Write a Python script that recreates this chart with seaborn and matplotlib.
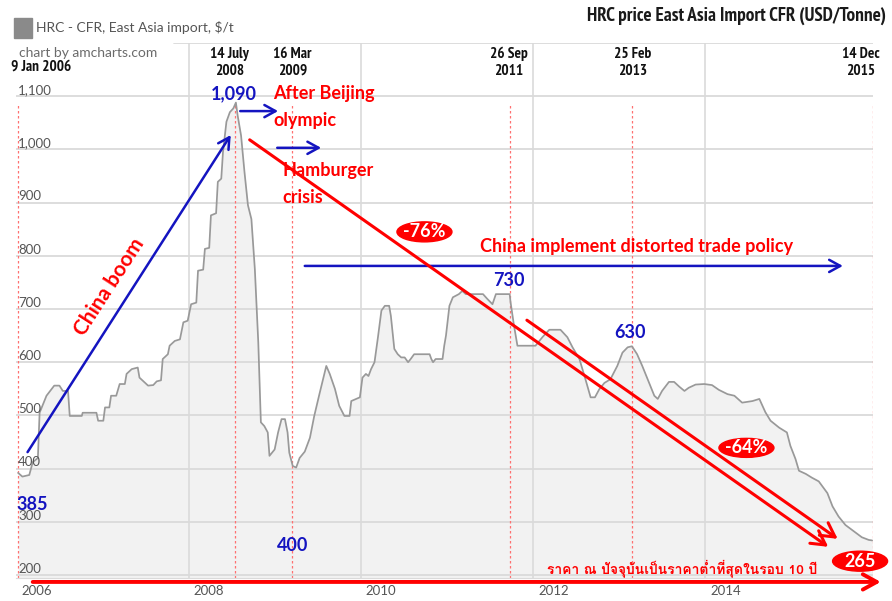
import pandas as pd
import matplotlib
matplotlib.use('Agg')
import matplotlib.pyplot as plt
import seaborn as sns
from matplotlib import font_manager, ft2font
from matplotlib.patches import Ellipse, Rectangle

# HRC price, East Asia import CFR (decimal year, USD/t)
years = [
    2006.02, 2006.07, 2006.15, 2006.19, 2006.25, 2006.27, 2006.35, 2006.44, 2006.50, 2006.54,
    2006.60, 2006.62, 2006.76, 2006.77, 2006.93, 2006.95, 2007.01, 2007.03, 2007.08, 2007.10,
    2007.16, 2007.20, 2007.26, 2007.28, 2007.34, 2007.41, 2007.43, 2007.49, 2007.53, 2007.59,
    2007.63, 2007.68, 2007.70, 2007.76, 2007.78, 2007.84, 2007.90, 2007.94, 2007.99, 2008.03,
    2008.09, 2008.11, 2008.17, 2008.19, 2008.24, 2008.26, 2008.32, 2008.34, 2008.38, 2008.40,
    2008.44, 2008.48, 2008.52, 2008.55, 2008.57, 2008.61, 2008.65, 2008.69, 2008.73, 2008.77,
    2008.81, 2008.84, 2008.88, 2008.92, 2008.94, 2009.00, 2009.04, 2009.08, 2009.12, 2009.15,
    2009.17, 2009.21, 2009.25, 2009.29, 2009.35, 2009.41, 2009.46, 2009.52, 2009.60, 2009.64,
    2009.70, 2009.75, 2009.81, 2009.87, 2009.89, 2009.99, 2010.02, 2010.06, 2010.09, 2010.12,
    2010.16, 2010.20, 2010.24, 2010.28, 2010.33, 2010.35, 2010.39, 2010.43, 2010.47, 2010.51,
    2010.55, 2010.58, 2010.62, 2010.80, 2010.82, 2010.84, 2010.87, 2010.95, 2010.97, 2010.99,
    2011.03, 2011.07, 2011.14, 2011.18, 2011.22, 2011.42, 2011.47, 2011.53, 2011.57, 2011.73,
    2011.74, 2011.78, 2011.82, 2012.03, 2012.11, 2012.19, 2012.32, 2012.40, 2012.46, 2012.54,
    2012.61, 2012.67, 2012.72, 2012.77, 2012.83, 2012.90, 2012.98, 2013.04, 2013.10, 2013.15,
    2013.21, 2013.27, 2013.35, 2013.41, 2013.45, 2013.50, 2013.58, 2013.64, 2013.70, 2013.76,
    2013.81, 2013.89, 2013.99, 2014.08, 2014.16, 2014.26, 2014.34, 2014.43, 2014.55, 2014.63,
    2014.70, 2014.76, 2014.86, 2014.95, 2014.99, 2015.05, 2015.09, 2015.17, 2015.24, 2015.32,
    2015.42, 2015.48, 2015.55, 2015.63, 2015.73, 2015.82, 2015.90, 2015.94,
]
prices = [
    392, 385, 388, 412, 420, 505, 537, 556, 556, 546,
    546, 499, 499, 505, 505, 490, 490, 515, 515, 537,
    537, 559, 559, 578, 587, 590, 571, 562, 556, 557,
    564, 566, 606, 615, 631, 640, 643, 675, 678, 709,
    712, 772, 774, 813, 815, 876, 880, 939, 945, 995,
    1052, 1070, 1077, 1088, 1064, 1026, 957, 895, 869, 775,
    637, 487, 480, 468, 424, 436, 468, 493, 493, 468,
    430, 405, 402, 420, 432, 458, 499, 540, 593, 578,
    550, 518, 499, 499, 527, 534, 571, 578, 574, 587,
    600, 647, 697, 706, 706, 687, 625, 615, 609, 609,
    600, 606, 615, 615, 606, 600, 606, 606, 631, 650,
    706, 722, 728, 734, 728, 728, 719, 709, 728, 728,
    713, 669, 631, 631, 647, 661, 661, 647, 628, 606,
    568, 534, 534, 549, 561, 568, 593, 618, 628, 630,
    615, 593, 561, 537, 531, 546, 563, 563, 554, 546,
    552, 558, 559, 557, 548, 540, 537, 524, 527, 531,
    506, 490, 477, 468, 443, 418, 396, 390, 383, 376,
    354, 329, 310, 294, 282, 271, 266, 265,
]

event_dates = ['2006-01-09', '2008-07-14', '2009-03-16', '2011-09-26', '2013-02-25', '2015-12-14']
event_labels = ['9 Jan 2006', '14 July\n2008', '16 Mar\n2009', '26 Sep\n2011', '25 Feb\n2013', '14 Dec\n2015']
year_ticks = [2006, 2008, 2010, 2012, 2014]
price_ticks = [200, 300, 400, 500, 600, 700, 800, 900, 1000, 1100]

RED = '#ff0000'
BLUE = '#1414c0'
GRID = '#dadada'
YMIN, YMAX = 194.4, 1200

sns.set_style('white')
fonts = font_manager.fontManager.ttflist
names = {f.name for f in fonts}
BODY = 'Lato' if 'Lato' in names else 'DejaVu Sans'


def heavy(f):
    w = f.weight
    if isinstance(w, str):
        w = font_manager.weight_dict.get(w, 400)
    return w >= 600


# a narrow face with a real bold for the title and date labels, if there is one
NARROW, STRETCH, SIZE = BODY, 'normal', 0.85
done = False
for key in ('Narrow', 'Condensed'):
    for f in sorted(fonts, key=lambda e: e.name):
        if key in f.name and heavy(f):
            NARROW, SIZE, done = f.name, 1.0, True
            break
    if done:
        break
if not done:
    for f in fonts:
        if f.stretch in ('condensed', 'semi-condensed') and heavy(f):
            NARROW, STRETCH, SIZE = f.name, f.stretch, 0.95
            break

THAI = None
for f in fonts:
    try:
        if 0x0E23 in ft2font.FT2Font(f.fname).get_charmap():
            THAI = f.name
            break
    except Exception:
        continue
plt.rcParams['font.family'] = [BODY, 'DejaVu Sans']

df = pd.DataFrame({'year': years, 'price': prices})
ev = pd.to_datetime(event_dates)
ev_years = ev.year + (ev.dayofyear - 1) / 365.25

fig = plt.figure(figsize=(8.92, 6.01), dpi=100)
ax = fig.add_axes([15.5 / 892, 23 / 601, 857.5 / 892, 535 / 601])
ax.set_xlim(2005.99, 2015.95)
ax.set_ylim(YMIN, YMAX)

ax.fill_between(df['year'], df['price'], YMIN, color='#f2f2f2', lw=0, zorder=1)
for v in price_ticks:
    ax.axhline(v, color=GRID, lw=1.3, zorder=2)
ax.axhline(YMAX, xmin=0.185, color=GRID, lw=1.3, zorder=2)
for yr in year_ticks[1:]:
    ax.axvline(yr, color=GRID, lw=1.2, zorder=2)
ax.vlines(ev_years, YMIN, 1085, colors='#ff7070', linestyles=(0, (2, 2)), lw=0.9, zorder=2)
sns.lineplot(data=df, x='year', y='price', ax=ax, color='#999999', lw=1.25, zorder=3)

ax.set_xticks([])
ax.set_yticks([])
ax.set_xlabel('')
ax.set_ylabel('')
for s in ax.spines.values():
    s.set_visible(False)
ax.spines['bottom'].set_visible(True)
ax.spines['bottom'].set_color(GRID)

for v in price_ticks:
    ax.text(2006.02, v + 4, f'{v:,}', fontsize=9.5, color='#555555', ha='left', va='baseline', zorder=4)
for yr in year_ticks:
    ax.text(yr + 0.06, 170, str(yr), fontsize=9.5, color='#555555', ha='left', va='center')

# header: legend, credit, title
def at(px, py):
    return px / 892, 1 - py / 601

fig.add_artist(Rectangle(at(14, 38), 18 / 892, 20 / 601, transform=fig.transFigure, color='#8a8a8a'))
fig.text(*at(36, 28), 'HRC - CFR, East Asia import, $/t', fontsize=10, color='#555555', va='center')
fig.text(*at(19, 53), 'chart by amcharts.com', fontsize=10, color='#6b6b6b', va='center')
fig.text(*at(587, 16), 'HRC price East Asia Import CFR (USD/Tonne)', fontsize=13.8 * SIZE, fontweight='bold',
         family=NARROW, fontstretch=STRETCH, color='#1a1a1a', va='center')

label_x = [2006.29, 2008.48, 2009.21, 2011.72, 2013.16, 2015.81]
label_y = [1155, 1164, 1164, 1164, 1164, 1164]
for x, y, s in zip(label_x, label_y, event_labels):
    ax.text(x, y, s, fontsize=11 * SIZE, fontweight='bold', family=NARROW, fontstretch=STRETCH,
            color='#111111', ha='center', va='center', linespacing=1.3)


def arrow(start, end, color, lw=2, head=0.8):
    ax.annotate('', xy=end, xytext=start, annotation_clip=False, zorder=5,
                arrowprops=dict(arrowstyle=f'->,head_length={head},head_width={head * 0.55}',
                                color=color, lw=lw, shrinkA=0, shrinkB=0))


def badge(x, y, s, w=55, h=20):
    sx, sy = ax.transData.transform((1, 1)) - ax.transData.transform((0, 0))
    ax.add_patch(Ellipse((x, y), w / sx, h / sy, color=RED, zorder=6, clip_on=False))
    ax.text(x, y, s, color='white', fontsize=13, fontweight='bold', ha='center', va='center', zorder=7)


def note(x, y, s, color=RED, size=13, **kw):
    ax.text(x, y, s, color=color, fontsize=size, fontweight='bold', zorder=6, **kw)


# rise
arrow((2006.13, 431), (2008.49, 1027), BLUE, lw=1.8)
note(2007.08, 741, 'China boom', size=15, rotation=57, ha='center', va='center')
note(2008.53, 1104, '1,090', color=BLUE, ha='center', va='center')
note(2006.18, 333, '385', color=BLUE, ha='center', va='center')

# crash
arrow((2008.60, 1072), (2009.04, 1072), BLUE, lw=1.8)
arrow((2009.03, 1003), (2009.54, 1003), BLUE, lw=1.8)
note(2008.98, 1106, 'After Beijing', va='center')
note(2008.98, 1055, 'olympic', va='center')
note(2009.09, 961, 'Hamburger', va='center')
note(2009.09, 909, 'crisis', va='center')
note(2009.21, 256, '400', color=BLUE, ha='center', va='center')

# long decline
arrow((2009.35, 781), (2015.60, 781), BLUE, lw=1.8)
note(2013.20, 818, 'China implement distorted trade policy', ha='center', va='center')
arrow((2008.71, 1018), (2015.43, 253), RED, lw=2.2, head=1.0)
arrow((2011.93, 679), (2015.54, 268), RED, lw=2.2, head=1.0)
note(2011.72, 753, '730', color=BLUE, ha='center', va='center')
note(2013.13, 655, '630', color=BLUE, ha='center', va='center')
badge(2010.74, 845, '-76%')
badge(2014.48, 439, '-64%', h=19)
badge(2015.80, 226, '265')

# bottom line
arrow((2006.19, 187), (2016.04, 187), RED, lw=2.8, head=1.0)
note(2012.16, 213, 'ราคา ณ ปัจจุบันเป็นราคาต่ำที่สุดในรอบ 10 ปี', size=10, va='center',
     family=[THAI, BODY] if THAI else BODY)

fig.savefig('out.png', dpi=100, facecolor='white')
